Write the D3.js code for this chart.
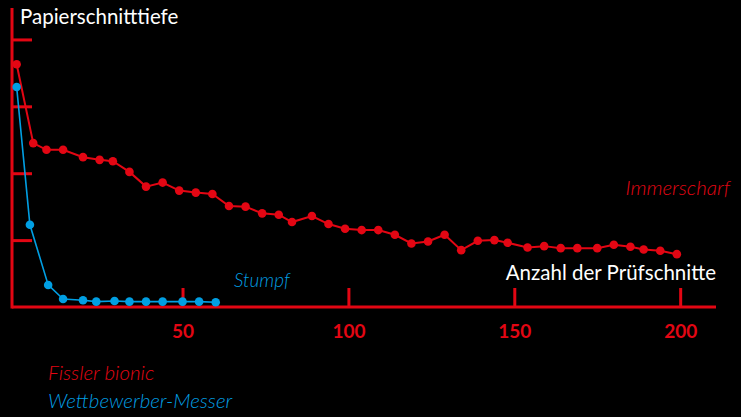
<!DOCTYPE html>
<meta charset="utf-8" />
<script src="https://d3js.org/d3.v7.min.js"></script>
<style>
  body { margin: 0; background: #000; }
  svg { display: block; background: #000; }
  .axis path, .axis line { stroke: #e30613; stroke-width: 3; }
  .axis text { fill: #e30613; font-family: Lato, sans-serif; font-weight: bold; font-size: 19px; }
  .title { fill: #fff; font-family: Lato, sans-serif; font-size: 20.5px; }
  .series { font-family: Lato, sans-serif; font-style: italic; font-weight: 300; font-size: 20.5px; }
</style>
<body>
<svg id="chart" width="741" height="417"></svg>
<script>
  // Schnitttiefe (Skaleneinheiten) ueber Anzahl der Pruefschnitte
  const cutsFissler = [0, 5, 9, 14, 20, 25, 29, 34, 39, 44, 49, 54, 59, 64, 69, 74, 79, 83, 89, 94,
    99, 104, 109, 114, 119, 124, 129, 134, 139, 144, 148, 154, 159, 164, 169, 175, 180, 185, 189, 194, 199];
  const depthFissler = [3.63, 2.45, 2.35, 2.35, 2.24, 2.20, 2.18, 2.02, 1.80, 1.86, 1.74, 1.71, 1.69, 1.51, 1.50,
    1.40, 1.38, 1.27, 1.36, 1.24, 1.17, 1.15, 1.15, 1.08, 0.95, 0.98, 1.08, 0.85, 0.99, 1.00,
    0.96, 0.89, 0.91, 0.88, 0.88, 0.88, 0.93, 0.90, 0.86, 0.84, 0.79];

  const cutsOther = [0, 4, 9.5, 14, 20, 24, 29.5, 34, 39, 44, 50, 55, 60];
  const depthOther = [3.29, 1.23, 0.33, 0.12, 0.10, 0.08, 0.09, 0.08, 0.08, 0.08, 0.08, 0.08, 0.07];

  const xTicks = [50, 100, 150, 200];
  const yTicks = [1, 2, 3, 4];

  const red = "#e30613", blue = "#009fe3";

  const svg = d3.select("#chart");

  const x = d3.scaleLinear().domain([-1.4, 210.8]).range([12, 716]);
  const y = d3.scaleLinear().domain([0, 4.47]).range([307, 8]);

  // x axis: ticks pointing up, labels below
  const xAxis = svg.append("g")
    .attr("class", "axis")
    .attr("transform", "translate(0," + y(0) + ")")
    .call(d3.axisBottom(x).tickValues(xTicks).tickSizeInner(-19).tickSizeOuter(0).tickFormat(d3.format("d")));
  xAxis.selectAll("text").attr("y", 31).attr("dy", 0);
  xAxis.select(".domain").attr("d", "M" + x.range()[0] + ",0H" + x.range()[1]);

  // y axis: no labels, ticks pointing right
  const yAxis = svg.append("g")
    .attr("class", "axis")
    .attr("transform", "translate(" + x.range()[0] + ",0)")
    .call(d3.axisRight(y).tickValues(yTicks).tickSize(20).tickSizeOuter(0).tickFormat(""));
  yAxis.select(".domain").attr("d", "M0," + (y(0) + 1.5) + "V" + y.range()[1]);

  function drawSeries(xs, ys, color, width) {
    const pts = xs.map((d, i) => [d, ys[i]]);
    svg.append("path")
      .datum(pts)
      .attr("fill", "none")
      .attr("stroke", color)
      .attr("stroke-width", width)
      .attr("d", d3.line().x(d => x(d[0])).y(d => y(d[1])));
    svg.append("g")
      .selectAll("circle")
      .data(pts)
      .join("circle")
      .attr("cx", d => x(d[0]))
      .attr("cy", d => y(d[1]))
      .attr("r", 4.3)
      .attr("fill", color);
  }

  drawSeries(cutsFissler, depthFissler, red, 2);
  drawSeries(cutsOther, depthOther, blue, 1.6);

  // titles
  svg.append("text").attr("class", "title").attr("x", 20).attr("y", 24).text("Papierschnitttiefe");
  svg.append("text").attr("class", "title").attr("x", 716).attr("y", 280)
    .attr("text-anchor", "end").text("Anzahl der Prüfschnitte");

  // series labels
  svg.append("text").attr("class", "series").attr("fill", red).attr("x", 730).attr("y", 195)
    .attr("text-anchor", "end").text("Immerscharf");
  svg.append("text").attr("class", "series").attr("fill", blue).attr("x", 234).attr("y", 287)
    .style("font-size", "19px").text("Stumpf");
  svg.append("text").attr("class", "series").attr("fill", red).attr("x", 48).attr("y", 380)
    .text("Fissler bionic");
  svg.append("text").attr("class", "series").attr("fill", blue).attr("x", 48).attr("y", 408)
    .text("Wettbewerber-Messer");
</script>
</body>
